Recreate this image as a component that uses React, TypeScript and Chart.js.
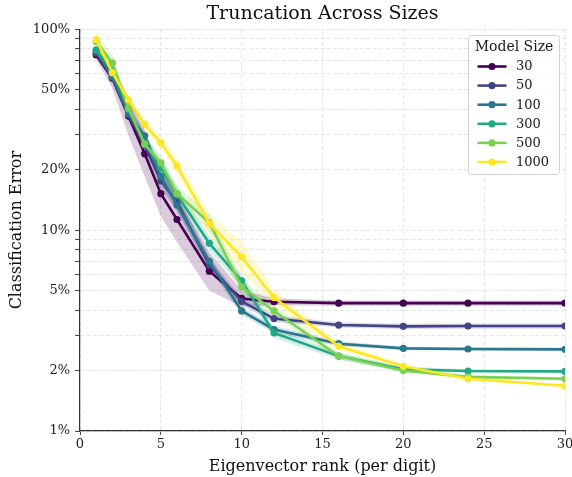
import React, { useEffect, useRef } from "react";
import { Chart, registerables } from "chart.js";

Chart.register(...registerables);

// ---- data ----
const ranks = [1, 2, 3, 4, 5, 6, 8, 10, 12, 16, 20, 24, 30];
const modelSizes = ["30", "50", "100", "300", "500", "1000"];
const seriesColors = ["#440154", "#414487", "#2a788e", "#22a884", "#7ad151", "#fde725"];

const err30 = [74.5, 57, 37, 24, 15.2, 11.3, 6.25, 4.57, 4.4, 4.33, 4.33, 4.33, 4.33];
const err50 = [76, 57.5, 37.5, 26.5, 17.6, 13.8, 6.7, 4.42, 3.63, 3.37, 3.32, 3.33, 3.33];
const err100 = [78, 58, 38, 29.5, 18.5, 13.3, 7.0, 3.96, 3.2, 2.72, 2.58, 2.56, 2.55];
const err300 = [79, 62, 40, 27, 20.5, 15, 8.6, 5.6, 3.08, 2.36, 2.03, 1.99, 1.98];
const err500 = [87, 68, 40.5, 26.8, 21.6, 15.2, 10.9, 5.22, 3.96, 2.36, 2.0, 1.86, 1.82];
const err1000 = [88.8, 60.8, 44.6, 33.6, 27.3, 20.9, 10.8, 7.36, 4.62, 2.64, 2.1, 1.82, 1.68];

// multiplicative half-width of the shaded band (upper = v*f, lower = v/f)
const band30 = [1.05, 1.12, 1.25, 1.3, 1.3, 1.3, 1.25, 1.1, 1.04, 1.03, 1.03, 1.03, 1.03];
const band50 = [1.04, 1.06, 1.08, 1.1, 1.1, 1.1, 1.08, 1.05, 1.04, 1.03, 1.03, 1.03, 1.03];
const band100 = [1.04, 1.05, 1.07, 1.08, 1.08, 1.08, 1.08, 1.05, 1.04, 1.03, 1.02, 1.02, 1.02];
const band300 = [1.05, 1.06, 1.08, 1.1, 1.1, 1.1, 1.08, 1.08, 1.06, 1.04, 1.03, 1.02, 1.02];
const band500 = [1.1, 1.1, 1.1, 1.1, 1.1, 1.1, 1.1, 1.1, 1.06, 1.04, 1.03, 1.02, 1.02];
const band1000 = [1.06, 1.06, 1.06, 1.08, 1.08, 1.1, 1.12, 1.2, 1.1, 1.05, 1.03, 1.02, 1.02];

const seriesValues = [err30, err50, err100, err300, err500, err1000];
const seriesBands = [band30, band50, band100, band300, band500, band1000];

const yLabelledTicks = [1, 2, 5, 10, 20, 50, 100];
const yMinorTicks = [3, 4, 6, 7, 8, 9, 30, 40, 60, 70, 80, 90];
const xTickStep = 5;

const titleText = "Truncation Across Sizes";
const xTitle = "Eigenvector rank (per digit)";
const yTitle = "Classification Error";
const legendTitle = "Model Size";

const SERIF = '"DejaVu Serif", serif';

function hexToRgba(hex: string, a: number) {
  const n = parseInt(hex.slice(1), 16);
  return `rgba(${(n >> 16) & 255},${(n >> 8) & 255},${n & 255},${a})`;
}

const legendPlugin = {
  id: "customLegend",
  afterDraw(chart: any) {
    const ctx = chart.ctx as CanvasRenderingContext2D;
    const area = chart.chartArea;
    const w = 91;
    const h = 139;
    const x0 = Math.round(area.right - w - 6.5) + 0.5;
    const y0 = Math.round(area.top + 6) + 0.5;
    ctx.save();
    const r = 3;
    ctx.beginPath();
    ctx.moveTo(x0 + r, y0);
    ctx.lineTo(x0 + w - r, y0);
    ctx.arcTo(x0 + w, y0, x0 + w, y0 + r, r);
    ctx.lineTo(x0 + w, y0 + h - r);
    ctx.arcTo(x0 + w, y0 + h, x0 + w - r, y0 + h, r);
    ctx.lineTo(x0 + r, y0 + h);
    ctx.arcTo(x0, y0 + h, x0, y0 + h - r, r);
    ctx.lineTo(x0, y0 + r);
    ctx.arcTo(x0, y0, x0 + r, y0, r);
    ctx.closePath();
    ctx.fillStyle = "rgba(255,255,255,0.85)";
    ctx.fill();
    ctx.strokeStyle = "#d0d0d0";
    ctx.lineWidth = 1;
    ctx.stroke();

    ctx.fillStyle = "#1a1a1a";
    ctx.font = `14px ${SERIF}`;
    ctx.textAlign = "center";
    ctx.textBaseline = "middle";
    ctx.fillText(legendTitle, x0 + w / 2, y0 + 11.5);

    ctx.font = `13px ${SERIF}`;
    ctx.textAlign = "left";
    modelSizes.forEach((label, i) => {
      const y = y0 + 31 + i * 19.1;
      ctx.strokeStyle = seriesColors[i];
      ctx.lineWidth = 2.6;
      ctx.beginPath();
      ctx.moveTo(x0 + 9, y);
      ctx.lineTo(x0 + 38, y);
      ctx.stroke();
      ctx.fillStyle = seriesColors[i];
      ctx.beginPath();
      ctx.arc(x0 + 23.5, y, 3.6, 0, Math.PI * 2);
      ctx.fill();
      ctx.fillStyle = "#1a1a1a";
      ctx.fillText(label, x0 + 47.5, y + 0.5);
    });
    ctx.restore();
  },
};

export default function App() {
  const ref = useRef<HTMLCanvasElement | null>(null);

  useEffect(() => {
    if (!ref.current) return;
    const bandSets: any[] = [];
    const lineSets: any[] = [];
    seriesValues.forEach((vals, i) => {
      const f = seriesBands[i];
      bandSets.push({
        label: `lower-${modelSizes[i]}`,
        data: ranks.map((x, k) => ({ x, y: vals[k] / f[k] })),
        borderWidth: 0,
        pointRadius: 0,
        fill: false,
        order: 100,
        backgroundColor: "transparent",
        borderColor: "transparent",
      });
      bandSets.push({
        label: `upper-${modelSizes[i]}`,
        data: ranks.map((x, k) => ({ x, y: vals[k] * f[k] })),
        borderWidth: 0,
        pointRadius: 0,
        fill: "-1",
        order: 100,
        backgroundColor: hexToRgba(seriesColors[i], 0.2),
        borderColor: "transparent",
      });
      lineSets.push({
        label: modelSizes[i],
        data: ranks.map((x, k) => ({ x, y: vals[k] })),
        borderColor: seriesColors[i],
        backgroundColor: seriesColors[i],
        pointBackgroundColor: seriesColors[i],
        pointBorderWidth: 0,
        pointRadius: 3.6,
        borderWidth: 2.6,
        fill: false,
        tension: 0,
        order: 10 - i,
      });
    });

    const chart = new Chart(ref.current, {
      type: "line",
      data: { datasets: [...bandSets, ...lineSets] },
      options: {
        animation: false,
        responsive: false,
        maintainAspectRatio: false,
        layout: { padding: { left: 0, right: 7, top: 0, bottom: 0 } },
        plugins: {
          legend: { display: false },
          tooltip: { enabled: false },
          filler: { drawTime: "beforeDatasetsDraw" },
          title: {
            display: true,
            fullSize: false,
            text: titleText,
            color: "#111",
            font: { family: SERIF, size: 19, weight: "normal" },
            padding: { top: 3, bottom: 3.5 },
          },
        },
        scales: {
          x: {
            type: "linear",
            min: 0,
            max: 30,
            ticks: {
              stepSize: xTickStep,
              color: "#222",
              font: { family: SERIF, size: 13 },
              padding: 2,
              maxRotation: 0,
            },
            grid: {
              color: "#e2e2e2",
              lineWidth: 0.9,
              tickColor: "#333",
              tickLength: 4,
              tickBorderDash: [],
            },
            border: { display: true, color: "#333", width: 1.2, dash: [4, 2.5] },
            title: {
              display: true,
              text: xTitle,
              color: "#111",
              font: { family: SERIF, size: 16 },
              padding: { top: 0, bottom: 1 },
            },
            afterFit: (s: any) => {
              s.height = 46;
              s.paddingRight = 7;
              s.paddingLeft = 0;
            },
          },
          y: {
            type: "logarithmic",
            min: 1,
            max: 100,
            afterBuildTicks: (s: any) => {
              const all = [...yLabelledTicks, ...yMinorTicks].sort((a, b) => a - b);
              s.ticks = all.map((v) => ({ value: v, major: yLabelledTicks.includes(v) }));
            },
            ticks: {
              autoSkip: false,
              color: "#222",
              font: { family: SERIF, size: 13 },
              padding: 5,
              callback: (v: any) => (yLabelledTicks.includes(Number(v)) ? `${v}%` : ""),
            },
            grid: {
              color: "#e2e2e2",
              lineWidth: 0.9,
              tickColor: "#333",
              tickLength: 5,
              tickBorderDash: [],
            },
            border: { display: true, color: "#333", width: 1.2, dash: [4, 2.5] },
            title: {
              display: true,
              text: yTitle,
              color: "#111",
              font: { family: SERIF, size: 16 },
              padding: { top: 7, bottom: 0 },
            },
            afterFit: (s: any) => {
              s.width = 80;
            },
          },
        },
      } as any,
      plugins: [legendPlugin],
    });
    return () => chart.destroy();
  }, []);

  return (
    <div style={{ position: "fixed", left: 0, top: 0, width: 572, height: 477, background: "#fff" }}>
      <canvas ref={ref} width={572} height={477} style={{ width: 572, height: 477 }} />
    </div>
  );
}
